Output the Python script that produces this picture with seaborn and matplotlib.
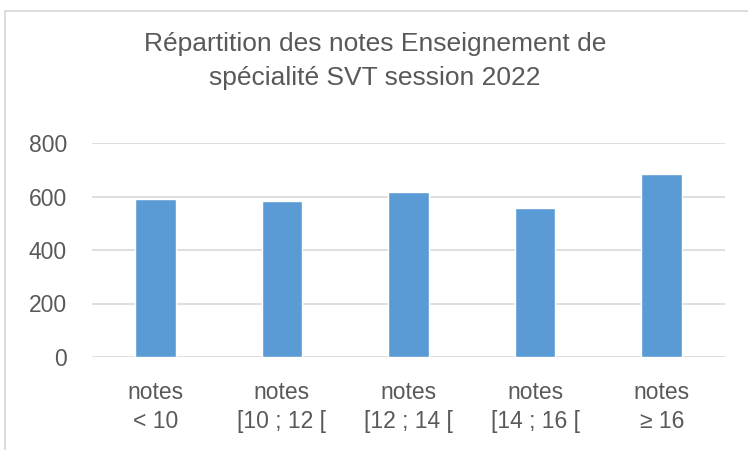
import numpy as np
import pandas as pd
import matplotlib
matplotlib.use("Agg")
import matplotlib.pyplot as plt
import seaborn as sns
from matplotlib.patches import Rectangle

# données
categories = ["notes\n< 10", "notes\n[10 ; 12 [", "notes\n[12 ; 14 [", "notes\n[14 ; 16 [", "notes\n≥ 16"]
effectifs = [590, 584, 616, 557, 685]
yticks = [0, 200, 400, 600, 800]
titre = "Répartition des notes Enseignement de\nspécialité SVT session 2022"

df = pd.DataFrame({"categorie": categories, "effectif": effectifs})

sns.set_style("white")
plt.rcParams['font.family'] = ['Liberation Sans', 'DejaVu Sans']

fig = plt.figure(figsize=(7.48, 4.5), dpi=100)
ax = fig.add_axes([92/748, 1-357/450, (725-92)/748, (357-143)/450])

sns.barplot(data=df, x="categorie", y="effectif", color="#5b9bd5",
            width=0.32, saturation=1, ax=ax, zorder=3)

ax.set_ylim(0, 800)
ax.set_yticks(yticks)
ax.yaxis.grid(True, color="#d9d9d9", linewidth=1.2, zorder=0)
ax.set_axisbelow(True)
ax.set_xlabel("")
ax.set_ylabel("")
for s in ax.spines.values():
    s.set_visible(False)
ax.tick_params(axis="both", length=0, colors="#595959", labelsize=16.5)
ax.tick_params(axis="y", pad=18)
ax.tick_params(axis="x", pad=17)
for lab in ax.get_xticklabels():
    lab.set_linespacing(1.35)

# titre
fig.text(375/748, 1-61/450, titre, ha="center", va="center",
         fontsize=19, color="#595959", linespacing=1.55)

# cadre du graphique (coupé à droite et en bas)
fig.patches.append(Rectangle((5/748, -0.2), 2, 1.2 - 11/450,
                             transform=fig.transFigure, fill=False,
                             edgecolor="#d9d9d9", linewidth=1.3))

fig.savefig("out.png", dpi=100)
